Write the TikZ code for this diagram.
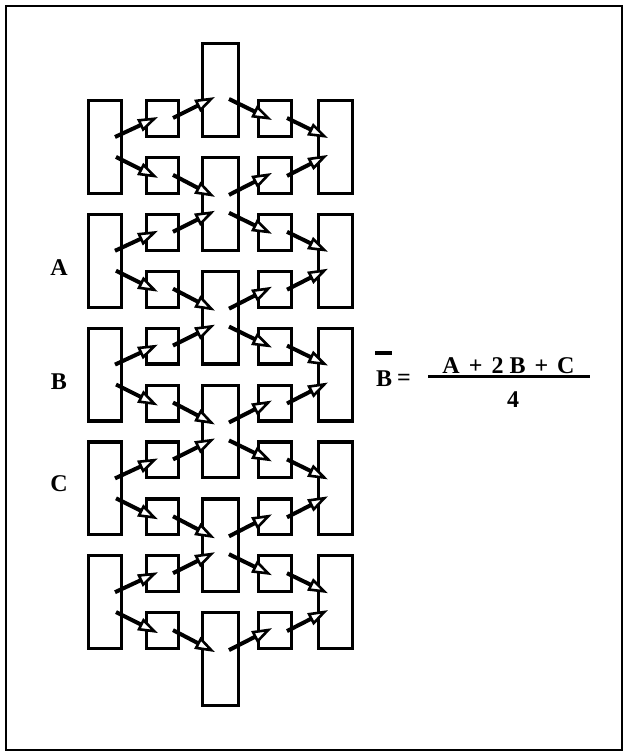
\documentclass[tikz,border=0pt]{standalone}
\usepackage{fontspec}
\setmainfont{Liberation Serif}
\usetikzlibrary{arrows.meta}
\begin{document}
\begin{tikzpicture}[x=1pt,y=-1pt,
  box/.style={draw, line width=3.2pt, inner sep=0pt, outer sep=0pt},
  flow/.style={line width=4pt, line cap=butt,
    -{Triangle[length=20pt,width=13pt,fill=white,line width=2.6pt]}},
  lab/.style={font=\fontsize{24}{26}\selectfont\bfseries, inner sep=0pt}
]
\useasboundingbox (0,0) rectangle (626,754);
\node[draw, line width=2.4pt, minimum width=616pt, minimum height=744pt,
  anchor=north west, inner sep=0pt] (frame) at (5,5) {};
% small boxes (columns 2 and 4)
\foreach \r in {0,...,9} {
  \pgfmathsetmacro\cy{99+56.9*\r+19.5}
  \node[box, minimum width=31.8pt, minimum height=35.8pt] (s2-\r) at (162.5,\cy) {};
  \node[box, minimum width=32.8pt, minimum height=35.8pt] (s4-\r) at (275,\cy) {};
}
% tall side boxes (columns 1 and 5)
\foreach \k in {0,...,4} {
  \pgfmathsetmacro\cy{99+56.9*2*\k+47.95}
  \node[box, minimum width=32.8pt, minimum height=92.7pt] (t1-\k) at (105,\cy) {};
  \node[box, minimum width=33.8pt, minimum height=92.7pt] (t5-\k) at (335.5,\cy) {};
}
% tall centre boxes (column 3)
\foreach \k in {0,...,5} {
  \pgfmathsetmacro\cy{99+56.9*(2*\k-1)+47.95}
  \node[box, minimum width=35.8pt, minimum height=92.7pt] (t3-\k) at (220.5,\cy) {};
}
% arrows
\foreach \r in {0,...,9} {
  \pgfmathsetmacro\T{99+56.9*\r}
  \ifodd\r
    \coordinate (a1-\r) at (116,\T+1);   \coordinate (b1-\r) at (158,\T+22);
    \coordinate (a2-\r) at (173,\T+19);  \coordinate (b2-\r) at (215,\T+41);
    \coordinate (a3-\r) at (229,\T+39);  \coordinate (b3-\r) at (272,\T+17);
    \coordinate (a4-\r) at (287,\T+20);  \coordinate (b4-\r) at (328,\T-1);
  \else
    \coordinate (a1-\r) at (115,\T+38);  \coordinate (b1-\r) at (158,\T+18);
    \coordinate (a2-\r) at (173,\T+19);  \coordinate (b2-\r) at (215,\T-2);
    \coordinate (a3-\r) at (229,\T);     \coordinate (b3-\r) at (272,\T+21);
    \coordinate (a4-\r) at (287,\T+19);  \coordinate (b4-\r) at (328,\T+39);
  \fi
  \draw[flow] (a1-\r) -- (b1-\r);
  \draw[flow] (a2-\r) -- (b2-\r);
  \draw[flow] (a3-\r) -- (b3-\r);
  \draw[flow] (a4-\r) -- (b4-\r);
}
% labels
\node[lab] (labA) at (59,268) {A};
\node[lab] (labB) at (59,382) {B};
\node[lab] (labC) at (59,484) {C};
% equation
\node[lab] (eqB) at (384,379) {B};
\coordinate (barL) at (375,353);
\coordinate (barR) at (392,353);
\draw[line width=3.2pt] (barL) -- (barR);
\node[lab] (eq) at (404,380) {=};
\coordinate (fracL) at (428,376.5);
\coordinate (fracR) at (590,376.5);
\draw[line width=3.4pt] (fracL) -- (fracR);
\node[lab] (num) at (508.5,365.5) {A\hspace{9pt}+\hspace{9pt}2\hspace{6pt}B\hspace{9pt}+\hspace{9pt}C};
\node[lab] (den) at (513,400) {4};
\end{tikzpicture}
\end{document}
